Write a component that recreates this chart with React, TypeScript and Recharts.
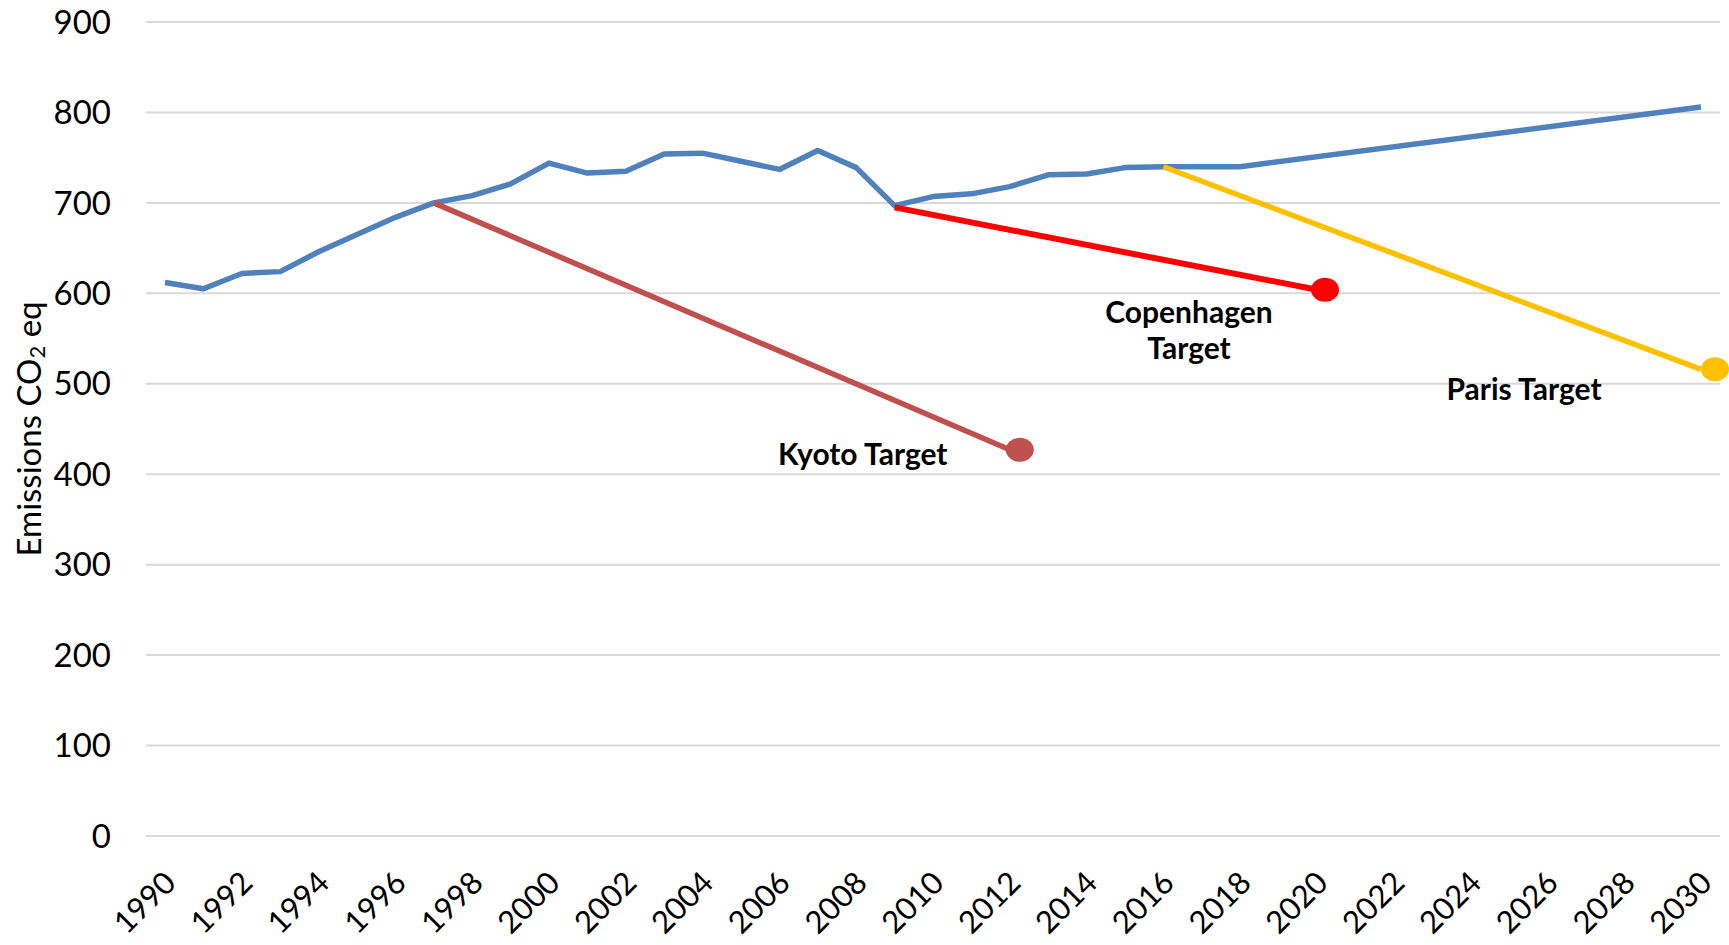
import { LineChart, Line, XAxis, YAxis, CartesianGrid } from "recharts"

const years = [
  1990, 1991, 1992, 1993, 1994, 1995, 1996, 1997, 1998, 1999,
  2000, 2001, 2002, 2003, 2004, 2005, 2006, 2007, 2008, 2009,
  2010, 2011, 2012, 2013, 2014, 2015, 2016, 2017, 2018, 2019,
  2020, 2021, 2022, 2023, 2024, 2025, 2026, 2027, 2028, 2029, 2030,
]

// actual emissions, then a straight projection from 2018 to 2030
const emissions: (number | null)[] = [
  612, 605, 622, 624, 646, 665, 684, 700, 708, 721,
  744, 733, 735, 754, 755, 746, 737, 758, 739, 697,
  707, 710, 718, 731, 732, 739, 740, 740, 740, null,
  null, null, null, null, null, null, null, null, null, null, 806,
]

// target lines: start year/value, end year/value
const kyoto = { from: 1997, start: 700, to: 2012, end: 427 }
const copenhagen = { from: 2009, start: 695, to: 2020, end: 604 }
const paris = { from: 2016, start: 740, to: 2030, end: 516 }

const yTicks = [0, 100, 200, 300, 400, 500, 600, 700, 800, 900]

const FONT = "Lato, 'Open Sans', sans-serif"

function targetValue(t: { from: number; start: number; to: number; end: number }, year: number) {
  if (year === t.from) return t.start
  if (year === t.to) return t.end
  return null
}

const data = years.map((year, i) => ({
  year: String(year),
  emissions: emissions[i],
  kyoto: targetValue(kyoto, year),
  copenhagen: targetValue(copenhagen, year),
  paris: targetValue(paris, year),
}))

function endDot(
  endYear: number,
  color: string,
  shift: number,
  lines: string[],
  labelDx: number,
  labelDy: number
) {
  return (props: any) => {
    const { cx, cy, index, payload } = props
    if (payload == null || Number(payload.year) !== endYear || cx == null || cy == null) {
      return <g key={`d-${index}`} />
    }
    return (
      <g key={`d-${index}`}>
        <ellipse cx={cx + shift} cy={cy} rx={14} ry={12} fill={color} />
        <text
          x={cx + labelDx}
          textAnchor="middle"
          fontFamily={FONT}
          fontWeight={700}
          fontSize={30}
          fill="#000"
        >
          {lines.map((l, k) => (
            <tspan key={k} x={cx + labelDx} y={cy + labelDy + k * 36} dominantBaseline="central">
              {l}
            </tspan>
          ))}
        </text>
      </g>
    )
  }
}

function YearTick(props: any) {
  const { x, y, payload } = props
  const ax = x + 5
  const ay = y + 33
  return (
    <text
      x={ax}
      y={ay}
      dy="0.35em"
      textAnchor="end"
      transform={`rotate(-45, ${ax}, ${ay})`}
      fontFamily={FONT}
      fontSize={31}
      fill="#000"
    >
      {payload.value}
    </text>
  )
}

function AxisTitle(props: any) {
  const { viewBox } = props
  const cx = 28
  const cy = viewBox.y + viewBox.height / 2
  return (
    <text
      x={cx}
      y={cy}
      textAnchor="middle"
      dominantBaseline="central"
      transform={`rotate(-90, ${cx}, ${cy})`}
      fontFamily={FONT}
      fontSize={33}
      fill="#000"
    >
      Emissions CO
      <tspan dy={8} fontSize={22}>2</tspan>
      <tspan dy={-8}> eq</tspan>
    </text>
  )
}

export default function App() {
  return (
    <div style={{ position: "absolute", left: 0, top: 0, width: 1729, height: 945, background: "#fff" }}>
      <LineChart
        width={1729}
        height={945}
        data={data}
        margin={{ top: 22, right: 9, bottom: 0, left: 0 }}
      >
        <CartesianGrid vertical={false} stroke="#d9d9d9" strokeWidth={2} />
        <XAxis
          dataKey="year"
          height={109}
          interval={1}
          padding={{ left: 19, right: 19 }}
          axisLine={false}
          tickLine={false}
          tick={<YearTick />}
        />
        <YAxis
          width={146}
          domain={[0, 900]}
          ticks={yTicks}
          axisLine={false}
          tickLine={false}
          tickSize={0}
          tickMargin={35}
          tick={{ fontFamily: FONT, fontSize: 33, fill: "#000" }}
          label={{ content: <AxisTitle /> }}
        />
        <Line
          dataKey="emissions"
          stroke="#4f81bd"
          strokeWidth={5.5}
          strokeLinejoin="round"
          dot={false}
          activeDot={false}
          connectNulls
          isAnimationActive={false}
        />
        <Line
          dataKey="kyoto"
          stroke="#c0504d"
          strokeWidth={5.5}
          dot={endDot(kyoto.to, "#c0504d", 10, ["Kyoto Target"], -147, 3)}
          activeDot={false}
          connectNulls
          isAnimationActive={false}
        />
        <Line
          dataKey="copenhagen"
          stroke="#ff0000"
          strokeWidth={6}
          dot={endDot(copenhagen.to, "#ff0000", 8, ["Copenhagen", "Target"], -128, 21)}
          activeDot={false}
          connectNulls
          isAnimationActive={false}
        />
        <Line
          dataKey="paris"
          stroke="#ffc000"
          strokeWidth={5.5}
          dot={endDot(paris.to, "#ffc000", 14, ["Paris Target"], -177, 19)}
          activeDot={false}
          connectNulls
          isAnimationActive={false}
        />
      </LineChart>
    </div>
  )
}
